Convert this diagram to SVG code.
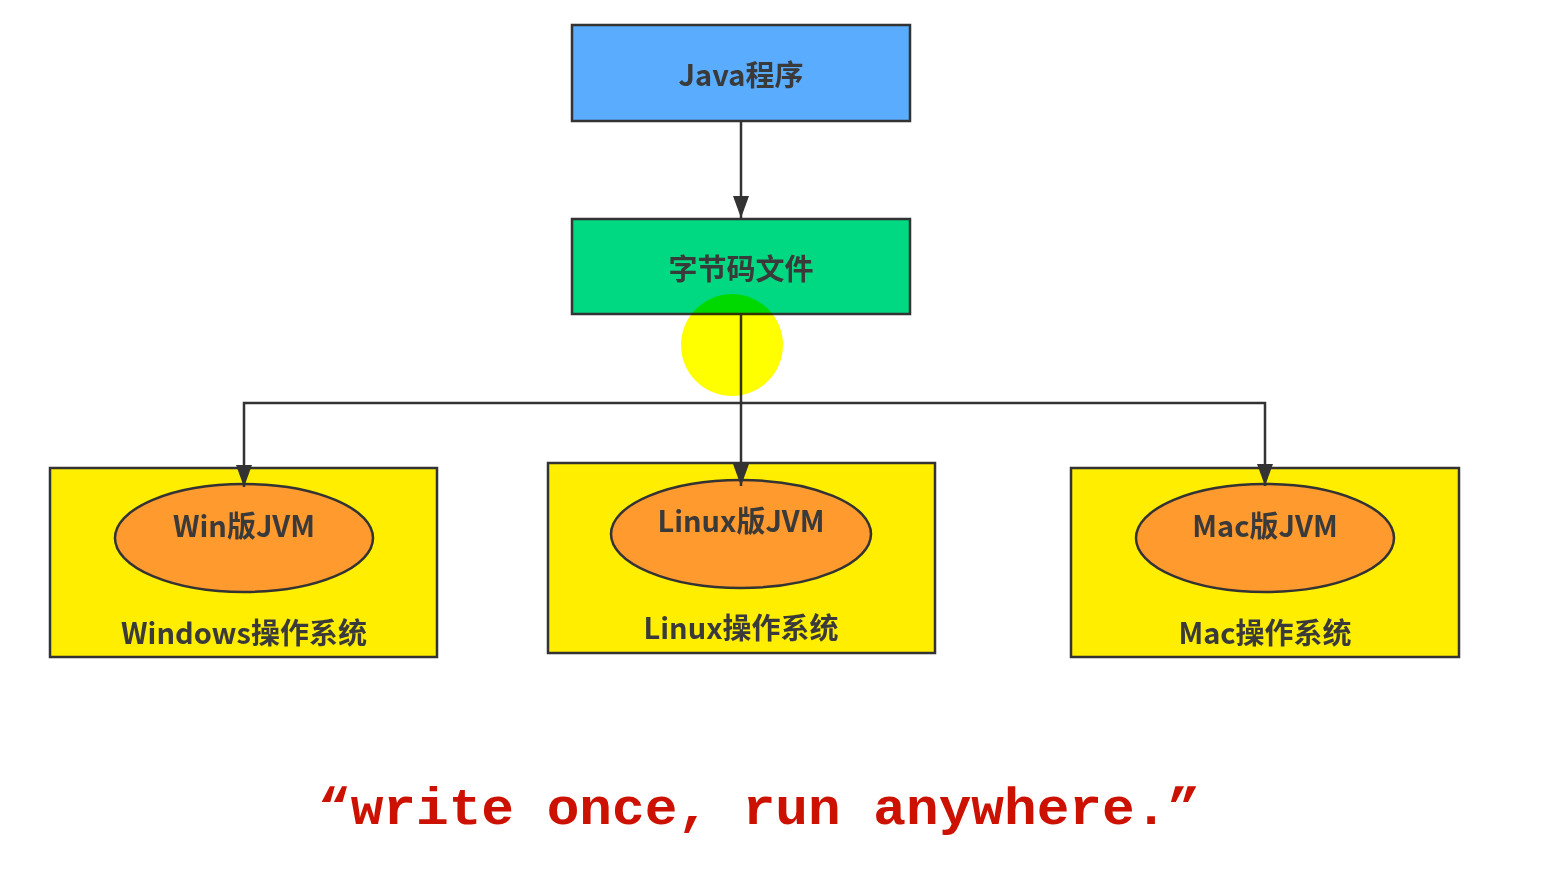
<svg xmlns="http://www.w3.org/2000/svg" width="1543" height="874" viewBox="0 0 1543 874">
<defs>
<style>
.box{stroke:#333;stroke-width:2.5}
.ell{fill:#ff9a2e;stroke:#333;stroke-width:2.5}
.lbl{font-family:"Noto Sans CJK SC","Noto Sans",sans-serif;font-weight:bold;font-size:29px;fill:#3a3a3a;text-anchor:middle}
.con{fill:none;stroke:#333;stroke-width:2.5}
.motto{font-family:"Liberation Mono","Courier New",monospace;font-weight:bold;font-size:52px;fill:#cc1100}
</style>
<marker id="arrd" viewBox="0 0 22 16" refX="22" refY="8" markerWidth="22" markerHeight="16" markerUnits="userSpaceOnUse" orient="auto">
<path d="M0,0 L22,8 L0,16 Z" fill="#333"/>
</marker>
</defs>
<rect width="1543" height="874" fill="#ffffff"/>
<g id="java">
<rect class="box" x="572" y="25" width="338" height="96" fill="#5aacfe"/>
<text class="lbl" x="741" y="86">Java程序</text>
</g>
<g id="bytecode">
<rect class="box" x="572" y="219" width="338" height="95" fill="#00d982"/>
<text class="lbl" x="741" y="280">字节码文件</text>
</g>
<g id="windows">
<rect class="box" x="50" y="468" width="387" height="189" fill="#ffee00"/>
<ellipse class="ell" cx="244" cy="538" rx="129" ry="54"/>
<text class="lbl" x="244" y="537">Win版JVM</text>
<text class="lbl" x="244" y="644">Windows操作系统</text>
</g>
<g id="linux">
<rect class="box" x="548" y="463" width="387" height="190" fill="#ffee00"/>
<ellipse class="ell" cx="741" cy="534" rx="130" ry="54"/>
<text class="lbl" x="741" y="532">Linux版JVM</text>
<text class="lbl" x="741" y="639">Linux操作系统</text>
</g>
<g id="mac">
<rect class="box" x="1071" y="468" width="388" height="189" fill="#ffee00"/>
<ellipse class="ell" cx="1265" cy="538" rx="129" ry="54"/>
<text class="lbl" x="1265" y="537">Mac版JVM</text>
<text class="lbl" x="1265" y="644">Mac操作系统</text>
</g>
<g id="connectors">
<path class="con" d="M741,121 V218" marker-end="url(#arrd)"/>
<path class="con" d="M741,314 V486" marker-end="url(#arrd)"/>
<path class="con" d="M741,403 H244 V487" marker-end="url(#arrd)"/>
<path class="con" d="M741,403 H1265 V486" marker-end="url(#arrd)"/>
</g>
<circle cx="732" cy="345" r="51" fill="#ffff00" style="mix-blend-mode:multiply"/>
<text class="motto" x="318" y="824" textLength="882" lengthAdjust="spacingAndGlyphs">“write once, run anywhere.”</text>
</svg>
